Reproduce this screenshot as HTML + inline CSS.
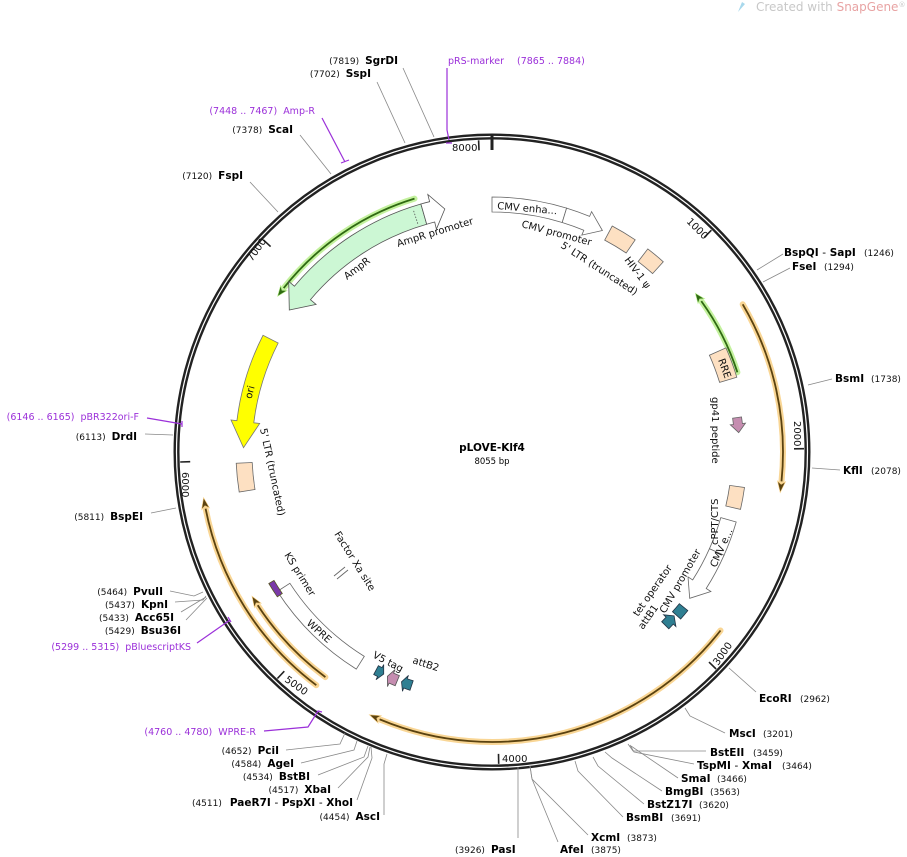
<!DOCTYPE html>
<html><head><meta charset="utf-8">
<style>
html,body{margin:0;padding:0;background:#fff;}
svg{display:block;font-family:"DejaVu Sans","Liberation Sans",sans-serif;}
.n{font-size:9px;fill:#111;font-weight:normal}
.b{font-size:10.5px;font-weight:bold;fill:#000}
.p{font-size:9.5px;fill:#9b30d9}
.f{font-size:10px;fill:#111}
.ll{stroke:#888;stroke-width:0.8;fill:none}
.pl{stroke:#9b30d9;stroke-width:1.2;fill:none}
</style></head>
<body>
<svg id="s" width="907" height="857" viewBox="0 0 907 857" xmlns="http://www.w3.org/2000/svg">
<text x="756" y="11" style="font-size:12px;fill:#c8c8c8">Created with <tspan fill="#e8a3a3">SnapGene</tspan><tspan font-size="7" dy="-4">®</tspan></text>
<path d="M738 12 l4 -10 l3 2 z" fill="#a8d8ec"/>
<g id="g"></g>

<text x="492" y="451" text-anchor="middle" style="font-size:10.5px;font-weight:bold">pLOVE-Klf4</text>
<text x="492" y="464" text-anchor="middle" style="font-size:8.5px">8055 bp</text>

<g>
<polyline class="ll" points="757,270 783,254"/><text x="784" y="256" class="b">BspQI <tspan font-weight="normal">-</tspan> SapI</text><text x="864" y="256" class="n">(1246)</text>
<polyline class="ll" points="763,282 790,268"/><text x="792" y="270" class="b">FseI</text><text x="824" y="270" class="n">(1294)</text>
<polyline class="ll" points="808,385 832,379"/><text x="835" y="382" class="b">BsmI</text><text x="871" y="382" class="n">(1738)</text>
<polyline class="ll" points="812,468 840,470"/><text x="843" y="474" class="b">KflI</text><text x="871" y="474" class="n">(2078)</text>
<polyline class="ll" points="729,668 756,692"/><text x="759" y="702" class="b">EcoRI</text><text x="800" y="702" class="n">(2962)</text>
<polyline class="ll" points="685,708 690,716 725,733"/><text x="729" y="737" class="b">MscI</text><text x="763" y="737" class="n">(3201)</text>
<polyline class="ll" points="628,744 633,751 706,751"/><text x="710" y="756" class="b">BstEII</text><text x="753" y="756" class="n">(3459)</text>
<polyline class="ll" points="630,745 634,752 694,764"/><text x="697" y="769" class="b">TspMI <tspan font-weight="normal">-</tspan> XmaI</text><text x="782" y="769" class="n">(3464)</text>
<polyline class="ll" points="631,746 678,778"/><text x="681" y="782" class="b">SmaI</text><text x="717" y="782" class="n">(3466)</text>
<polyline class="ll" points="605,752 612,758 662,791"/><text x="665" y="795" class="b">BmgBI</text><text x="710" y="795" class="n">(3563)</text>
<polyline class="ll" points="593,757 598,766 644,804"/><text x="647" y="808" class="b">BstZ17I</text><text x="699" y="808" class="n">(3620)</text>
<polyline class="ll" points="575,761 578,771 623,817"/><text x="626" y="821" class="b">BsmBI</text><text x="671" y="821" class="n">(3691)</text>
<polyline class="ll" points="530,766 532,779 588,835"/><text x="591" y="841" class="b">XcmI</text><text x="627" y="841" class="n">(3873)</text>
<polyline class="ll" points="530,766 532,779 558,842"/><text x="560" y="853" class="b">AfeI</text><text x="591" y="853" class="n">(3875)</text>
<polyline class="ll" points="518,767 518,838"/><text x="455" y="853" class="n">(3926)</text><text x="491" y="853" class="b">PasI</text>
</g>

<g text-anchor="end">
<polyline class="ll" points="403,68 434,137"/><text x="398" y="64"><tspan class="n">(7819)</tspan><tspan class="b" dx="6">SgrDI</tspan></text>
<polyline class="ll" points="377,82 405,143"/><text x="371" y="77"><tspan class="n">(7702)</tspan><tspan class="b" dx="6">SspI</tspan></text>
<polyline class="pl" points="322,118 345,162"/><path d="M341 163 l8 -3" class="pl"/><text x="315" y="114" class="p"><tspan>(7448 .. 7467)</tspan><tspan dx="6">Amp-R</tspan></text>
<polyline class="ll" points="300,135 331,174"/><text x="293" y="133"><tspan class="n">(7378)</tspan><tspan class="b" dx="6">ScaI</tspan></text>
<polyline class="ll" points="250,182 278,212"/><text x="243" y="179"><tspan class="n">(7120)</tspan><tspan class="b" dx="6">FspI</tspan></text>
<polyline class="pl" points="147,418 182,424"/><path d="M182 421 v6" class="pl"/><text x="139" y="420" class="p"><tspan>(6146 .. 6165)</tspan><tspan dx="6">pBR322ori-F</tspan></text>
<polyline class="ll" points="145,434 173,435"/><text x="137" y="440"><tspan class="n">(6113)</tspan><tspan class="b" dx="6">DrdI</tspan></text>
<polyline class="ll" points="151,513 176,508"/><text x="143" y="520"><tspan class="n">(5811)</tspan><tspan class="b" dx="6">BspEI</tspan></text>
<polyline class="ll" points="170,591 194,596 203,592"/><text x="163" y="595"><tspan class="n">(5464)</tspan><tspan class="b" dx="6">PvuII</tspan></text>
<polyline class="ll" points="175,602 203,600 206,596"/><text x="168" y="608"><tspan class="n">(5437)</tspan><tspan class="b" dx="6">KpnI</tspan></text>
<polyline class="ll" points="181,612 206,597"/><text x="174" y="621"><tspan class="n">(5433)</tspan><tspan class="b" dx="6">Acc65I</tspan></text>
<polyline class="ll" points="186,620 207,598"/><text x="181" y="634"><tspan class="n">(5429)</tspan><tspan class="b" dx="6">Bsu36I</tspan></text>
<polyline class="pl" points="197,643 230,620"/><path d="M228 617 l3 5" class="pl"/><text x="191" y="650" class="p"><tspan>(5299 .. 5315)</tspan><tspan dx="6">pBluescriptKS</tspan></text>
<polyline class="pl" points="264,731 308,727 318,711 322,712"/><text x="256" y="735" class="p"><tspan>(4760 .. 4780)</tspan><tspan dx="6">WPRE-R</tspan></text>
<polyline class="ll" points="286,750 340,744 345,733"/><text x="279" y="754"><tspan class="n">(4652)</tspan><tspan class="b" dx="6">PciI</tspan></text>
<polyline class="ll" points="301,763 354,750 357,741"/><text x="294" y="767"><tspan class="n">(4584)</tspan><tspan class="b" dx="6">AgeI</tspan></text>
<polyline class="ll" points="318,775 364,757 368,746"/><text x="310" y="780"><tspan class="n">(4534)</tspan><tspan class="b" dx="6">BstBI</tspan></text>
<polyline class="ll" points="338,788 368,757 370,747"/><text x="331" y="793"><tspan class="n">(4517)</tspan><tspan class="b" dx="6">XbaI</tspan></text>
<polyline class="ll" points="357,800 372,758 371,747"/><text x="353" y="806"><tspan class="n">(4511)</tspan><tspan class="b" dx="8">PaeR7I <tspan font-weight="normal">-</tspan> PspXI <tspan font-weight="normal">-</tspan> XhoI</tspan></text>
<polyline class="ll" points="384,815 384,764 387,754"/><text x="380" y="820"><tspan class="n">(4454)</tspan><tspan class="b" dx="6">AscI</tspan></text>
</g>
<polyline class="pl" points="447,68 447,130 449,140"/><path d="M446 143 h6" class="pl"/>
<text x="448" y="64" class="p">pRS-marker</text><text x="517" y="64" class="p">(7865 .. 7884)</text>

<g class="f" style="font-size:10px">
<text transform="translate(398,247) rotate(-17)">AmpR promoter</text>
<text transform="translate(347,280) rotate(-37)">AmpR</text>
<text transform="translate(253,393) rotate(-75)" text-anchor="middle">ori</text>
<text transform="translate(260,429) rotate(78)">5' LTR (truncated)</text>
<text transform="translate(497,209) rotate(5)">CMV enha...</text>
<text transform="translate(521,227) rotate(15)">CMV promoter</text>
<text transform="translate(560,247) rotate(33)">5' LTR (truncated)</text>
<text transform="translate(624,260) rotate(53)">HIV-1 ψ</text>
<text transform="translate(718,360) rotate(70)">RRE</text>
<text transform="translate(712,397) rotate(90)">gp41 peptide</text>
<text transform="translate(718,545) rotate(-90)">cPPT/CTS</text>
<text transform="translate(716,568) rotate(-66)">CMV e...</text>
<text transform="translate(665,614) rotate(-60)">CMV promoter</text>
<text transform="translate(638,617) rotate(-55)">tet operator</text>
<text transform="translate(643,630) rotate(-55)">attB1</text>
<text transform="translate(372,657) rotate(28)">V5 tag</text>
<text transform="translate(412,663) rotate(18)">attB2</text>
<text transform="translate(306,624) rotate(42)">WPRE</text>
<text transform="translate(284,555) rotate(58)">KS primer</text>
<text transform="translate(334,534) rotate(58)">Factor Xa site</text>
</g>
<path d="M334 576 l11 -9 M337 579 l11 -9" stroke="#666" stroke-width="0.9"/>

<g style="font-size:10px" fill="#111">
<text x="452" y="151">8000</text>
<text transform="translate(686,222) rotate(45)">1000</text>
<text transform="translate(794,421) rotate(90)">2000</text>
<text transform="translate(718,666) rotate(-55)">3000</text>
<text x="502" y="762">4000</text>
<text transform="translate(284,681) rotate(35)">5000</text>
<text transform="translate(182,472) rotate(90)">6000</text>
<text transform="translate(252,262) rotate(-55)">7000</text>
</g>
</svg>
<script>
const cx=492,cy=452,NS="http://www.w3.org/2000/svg",G=document.getElementById('g');
function pt(r,a){const t=a*Math.PI/180;return [cx+r*Math.sin(t),cy-r*Math.cos(t)];}
function A(r,a2,sw){const p=pt(r,a2);return `A${r} ${r} 0 0 ${sw} ${p[0].toFixed(1)} ${p[1].toFixed(1)}`;}
function L(r,a){const p=pt(r,a);return `${p[0].toFixed(1)} ${p[1].toFixed(1)}`;}
function add(tag,at){const e=document.createElementNS(NS,tag);for(const k in at)e.setAttribute(k,at[k]);G.appendChild(e);return e;}
function band(r1,r2,a1,a2,head,fill,stroke){
  const s=a2>a1?1:-1, sw=a2>a1?1:0, rs=1-sw;
  let d;
  if(!head){d=`M${L(r2,a1)}${A(r2,a2,sw)}L${L(r1,a2)}${A(r1,a1,rs)}Z`;}
  else{const b=a2-s*head,e=(r2-r1)*0.35,rm=(r1+r2)/2;
    d=`M${L(r2,a1)}${A(r2,b,sw)}L${L(r2+e,b)}L${L(rm,a2)}L${L(r1-e,b)}L${L(r1,b)}${A(r1,a1,rs)}Z`;}
  add('path',{d,fill,stroke:stroke||'#555','stroke-width':0.8});
}
function larrow(r,a1,a2,glow,col){
  const s=a2>a1?1:-1,sw=a2>a1?1:0,b=a2-s*2.2;
  const d=`M${L(r,a1)}${A(r,b,sw)}`;
  add('path',{d,fill:'none',stroke:glow,'stroke-width':6,'stroke-linecap':'round',opacity:0.85});
  add('path',{d,fill:'none',stroke:col,'stroke-width':1.8});
  add('path',{d:`M${L(r+4,b)}L${L(r,a2)}L${L(r-4,b)}L${L(r,b+s*0.6)}Z`,fill:col,stroke:glow,'stroke-width':0.6});
}
add('circle',{cx,cy,r:315.5,fill:'none',stroke:'#222','stroke-width':6});
add('circle',{cx,cy,r:315.5,fill:'none',stroke:'#fff','stroke-width':1.2});
[0,1000,2000,3000,4000,5000,6000,7000,8000].forEach(p=>{const a=p/8055*360;
 add('path',{d:`M${L(312,a)}L${L(302,a)}`,stroke:'#222','stroke-width':p==0?3:1.6});});
add('path',{d:`M${L(318,0)}L${L(303,0)}`,stroke:'#222','stroke-width':3});
larrow(265,-17,-54,'#b8ef8c','#2f6a12');
band(237,258,-16,-55,5,'#ccf7d4');
band(237,258,-16,-11,3,'#fff');
add('path',{d:`M${L(240,-18)}L${L(255,-18)}`,stroke:'#555','stroke-dasharray':'1.5 1.5','stroke-width':0.8});
band(240,257,-63,-89,6,'#ffff00','#777');
band(240,256,261,267.5,0,'#fde0c2','#666');
band(240,255,0,17,0,'#fff','#666');
band(240,255,17,26.5,4,'#fff','#666');
band(240,256,28,34,0,'#fde0c2','#666');
band(240,256,37.5,42,0,'#fde0c2','#666');
larrow(258,72,52,'#b8ef8c','#2f6a12');
larrow(291,59.5,98,'#f8cf82','#5a4210');
band(238,256,66,73,0,'#fde0c2','#666');
band(243,252,82,85.5,2,'#c58db0','#666');
band(240,255,98,103,0,'#fde0c2','#666');
band(238,254,106,114,0,'#fff','#666');
band(238,254,114,126.5,4,'#fff','#666');
band(241,252,129,131.5,0,'#2f7f92','#234');
band(240,250,135,132,1.5,'#2f7f92','#234');
larrow(290,128,205,'#f8cf82','#5a4210');
band(242,252,199,201.5,1,'#2f7f92','#234');
band(242,253,202.5,205,1,'#c58db0','#555');
band(242,252,208,206,1,'#2f7f92','#234');
band(241,256,212,237,0,'#fff','#666');
band(253,259,236,239.5,0,'#7a3aa8','#552');
larrow(292,217,261,'#f8cf82','#5a4210');
larrow(280,216.5,239,'#f8cf82','#5a4210');
</script>
</body></html>
